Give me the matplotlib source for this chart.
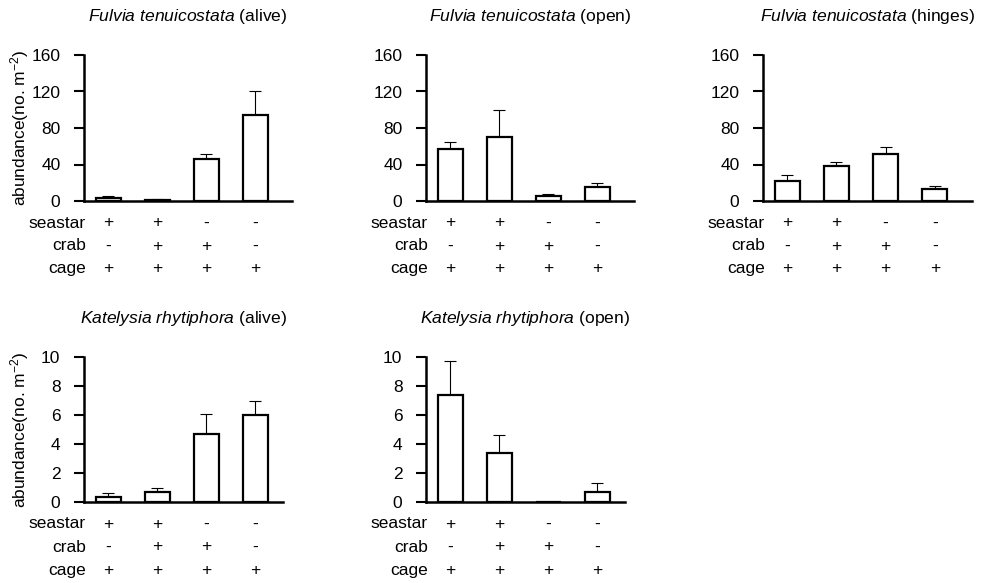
import numpy as np
import matplotlib
matplotlib.use('Agg')
import matplotlib.pyplot as plt

plt.rcParams['font.family'] = ['Liberation Sans', 'DejaVu Sans']
plt.rcParams['mathtext.fontset'] = 'custom'
plt.rcParams['mathtext.rm'] = 'Liberation Sans'
plt.rcParams['mathtext.it'] = 'Liberation Sans:italic'

# treatment table under each panel
treatments = ['seastar', 'crab', 'cage']
signs = [['+', '+', '-', '-'],
         ['-', '+', '+', '-'],
         ['+', '+', '+', '+']]

# means and standard errors
fulvia_alive = [3.5, 1.5, 46.5, 94]
fulvia_alive_se = [1.8, 0.5, 4.5, 27]
fulvia_open = [57, 70, 5, 15]
fulvia_open_se = [8, 30, 3, 5]
fulvia_hinges = [22, 38, 51, 13]
fulvia_hinges_se = [7, 5, 8, 3]
katelysia_alive = [0.35, 0.7, 4.7, 6.0]
katelysia_alive_se = [0.3, 0.3, 1.4, 1.0]
katelysia_open = [7.35, 3.35, 0, 0.7]
katelysia_open_se = [2.35, 1.3, 0, 0.6]

W, H = 981, 583
fig = plt.figure(figsize=(W / 100, H / 100), dpi=100)

# (left px, top px, width px, height px, species, state, means, se, yticks, xmax)
panels = [
    (84, 55, 208, 146, 'Fulvia\\ tenuicostata', '(alive)', fulvia_alive, fulvia_alive_se, [0, 40, 80, 120, 160], 3.755),
    (426, 55, 208, 146, 'Fulvia\\ tenuicostata', '(open)', fulvia_open, fulvia_open_se, [0, 40, 80, 120, 160], 3.755),
    (763, 55, 209, 146, 'Fulvia\\ tenuicostata', '(hinges)', fulvia_hinges, fulvia_hinges_se, [0, 40, 80, 120, 160], 3.755),
    (84, 357, 199, 145, 'Katelysia\\ rhytiphora', '(alive)', katelysia_alive, katelysia_alive_se, [0, 2, 4, 6, 8, 10], 3.57),
    (426, 357, 199, 145, 'Katelysia\\ rhytiphora', '(open)', katelysia_open, katelysia_open_se, [0, 2, 4, 6, 8, 10], 3.57),
]

row_offsets = [-22, -45, -68]  # px below x axis

for left, top, w, h, species, state, means, se, yticks, xmax in panels:
    ax = fig.add_axes([left / W, 1 - (top + h) / H, w / W, h / H])
    x = np.arange(len(means))
    means = np.array(means)
    se = np.array(se)
    ok = se > 0
    ax.errorbar(x[ok], means[ok], yerr=[np.zeros(ok.sum()), se[ok]], fmt='none',
                ecolor='black', elinewidth=0.8, capsize=4.5, capthick=0.8, zorder=1)
    ax.bar(x, means, width=0.51, color='white', edgecolor='black', linewidth=1.6, zorder=2)
    ax.set_xlim(-0.49, xmax)
    ax.set_ylim(0, yticks[-1])
    ax.set_yticks(yticks)
    ax.set_xticks([])
    for s in ['top', 'right']:
        ax.spines[s].set_visible(False)
    for s in ['left', 'bottom']:
        ax.spines[s].set_linewidth(1.8)
    ax.tick_params(axis='y', direction='out', length=7, width=1.5, pad=10, labelsize=12.5)
    ax.text(0.5, 1 + 38 / h, r'$\it{' + species + '}$ ' + state, transform=ax.transAxes,
            ha='center', va='center', fontsize=12.6, clip_on=False)
    for r, lab in enumerate(treatments):
        yy = row_offsets[r] / h
        ax.text(2 / w, yy, lab, transform=ax.transAxes, ha='right', va='center', fontsize=12.5)
        for i in range(len(means)):
            ax.annotate(signs[r][i], xy=(x[i], 0), xycoords=('data', 'axes fraction'),
                        xytext=(0, row_offsets[r] * 0.72), textcoords='offset points',
                        ha='center', va='center', fontsize=12.5)
    if left < 100:
        fig.text(20 / W, 1 - (top + h / 2) / H, 'abundance(no. m$^{-2}$)', rotation=90,
                 ha='center', va='center', fontsize=12.5)

fig.savefig('out.png', dpi=100)
